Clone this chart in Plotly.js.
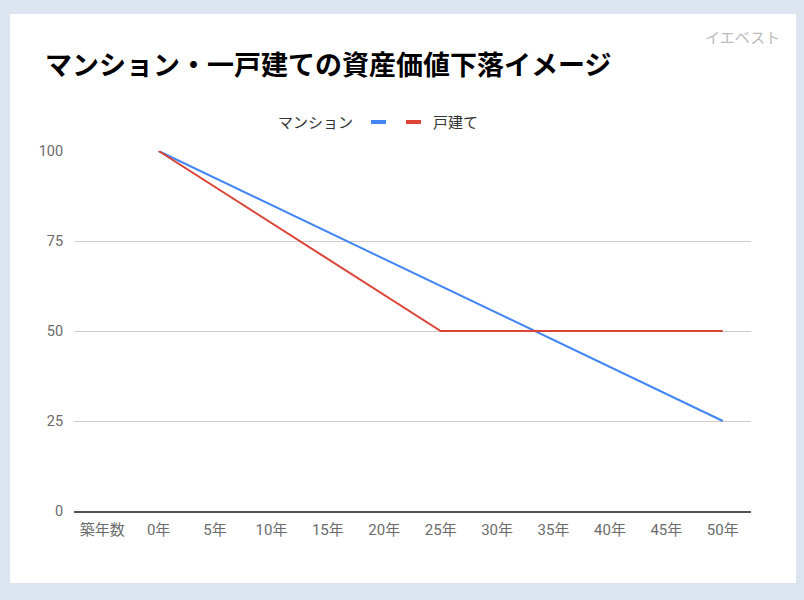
<!DOCTYPE html>
<html>
<head>
<meta charset="utf-8">
<script src="https://cdn.plot.ly/plotly-3.0.1.min.js"></script>
<style>
  html, body { margin: 0; padding: 0; background: #dce5ef; width: 804px; height: 600px; overflow: hidden; }
  #card { position: absolute; left: 10px; top: 14px; width: 786px; height: 569px; background: #ffffff; }
  #chart { position: absolute; left: 0; top: 0; width: 804px; height: 600px; }
</style>
</head>
<body>
<div id="card"></div>
<div id="chart"></div>
<script>
const categories = ['築年数', '0年', '5年', '10年', '15年', '20年', '25年', '30年', '35年', '40年', '45年', '50年'];
const mansionValues = [null, 100, 92.5, 85, 77.5, 70, 62.5, 55, 47.5, 40, 32.5, 25];
const houseValues = [null, 100, 90, 80, 70, 60, 50, 50, 50, 50, 50, 50];
const yTicks = [0, 25, 50, 75, 100];
const seriesNames = ['マンション', '戸建て'];
const titleText = 'マンション・一戸建ての資産価値下落イメージ';
const watermark = 'イエベスト';

const FONT = "Roboto, 'Noto Sans CJK JP', sans-serif";
const BLUE = '#4285f4';
const RED = '#db4437';

const L = 74, R = 751, T = 151, B = 511;
const px = x => (x - L) / (R - L);
const py = y => (B - y) / (B - T);

const traces = [
  { x: categories, y: mansionValues, name: seriesNames[0], type: 'scatter', mode: 'lines',
    line: { color: BLUE, width: 2 }, connectgaps: false, hoverinfo: 'skip', showlegend: false },
  { x: categories, y: houseValues, name: seriesNames[1], type: 'scatter', mode: 'lines',
    line: { color: RED, width: 2 }, connectgaps: false, hoverinfo: 'skip', showlegend: false }
];

const layout = {
  width: 804, height: 600,
  paper_bgcolor: 'rgba(0,0,0,0)',
  plot_bgcolor: 'rgba(0,0,0,0)',
  margin: { l: L, r: 804 - R, t: T, b: 600 - B, pad: 0 },
  font: { family: FONT, size: 14, color: '#666666' },
  showlegend: false,
  title: {
    text: '<b>' + titleText + '</b>',
    font: { family: "'Noto Sans CJK JP', sans-serif", size: 27, color: '#000000' },
    xref: 'container', yref: 'container',
    x: 45 / 804, xanchor: 'left',
    y: 1 - 66 / 600, yanchor: 'middle'
  },
  xaxis: {
    type: 'category',
    categoryorder: 'array', categoryarray: categories,
    range: [-0.5, categories.length - 0.5],
    showgrid: false,
    showline: true, linecolor: '#555555', linewidth: 2,
    ticks: 'outside', ticklen: 4, tickcolor: 'rgba(0,0,0,0)',
    tickfont: { family: FONT, size: 15, color: '#6b6b6b' },
    zeroline: false, fixedrange: true
  },
  yaxis: {
    range: [0, 100],
    tickvals: yTicks,
    ticktext: yTicks.map(String),
    showgrid: true, gridcolor: '#cccccc', gridwidth: 1,
    showline: false, zeroline: false,
    ticks: 'outside', ticklen: 7, tickcolor: 'rgba(0,0,0,0)',
    tickfont: { family: FONT, size: 14.5, color: '#6b6b6b' },
    fixedrange: true
  },
  annotations: [
    { text: watermark, xref: 'paper', yref: 'paper', x: px(782), y: py(38),
      xanchor: 'right', yanchor: 'middle', showarrow: false,
      font: { family: FONT, size: 15, color: '#bbbbbb' } },
    { text: seriesNames[0], xref: 'paper', yref: 'paper', x: px(355), y: py(123),
      xanchor: 'right', yanchor: 'middle', showarrow: false,
      font: { family: FONT, size: 15, color: '#333333' } },
    { text: seriesNames[1], xref: 'paper', yref: 'paper', x: px(431), y: py(123),
      xanchor: 'left', yanchor: 'middle', showarrow: false,
      font: { family: FONT, size: 15, color: '#333333' } }
  ],
  shapes: [
    { type: 'line', xref: 'paper', yref: 'paper', x0: px(371), x1: px(386), y0: py(122), y1: py(122),
      line: { color: BLUE, width: 4 } },
    { type: 'line', xref: 'paper', yref: 'paper', x0: px(406), x1: px(421), y0: py(122), y1: py(122),
      line: { color: RED, width: 4 } }
  ]
};

Plotly.newPlot('chart', traces, layout, { displayModeBar: false, staticPlot: true });
</script>
</body>
</html>
